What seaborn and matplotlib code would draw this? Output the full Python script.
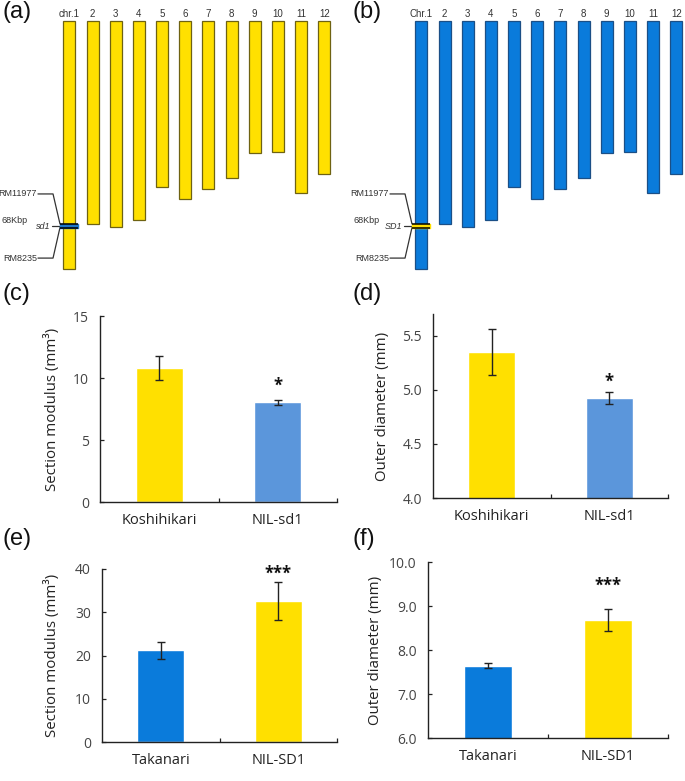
import numpy as np
import matplotlib
matplotlib.use("Agg")
import matplotlib.pyplot as plt
import seaborn as sns

# chromosome map data (lengths in Mb)
chr_names = ["1", "2", "3", "4", "5", "6", "7", "8", "9", "10", "11", "12"]
chr_len = [43.3, 35.4, 36.0, 34.7, 29.0, 31.1, 29.3, 27.4, 23.0, 22.9, 30.0, 26.7]
gene_pos = 35.75          # sd1 / SD1 position on chr.1 (Mb)
marker_names = ["RM11977", "RM8235"]
interval_label = "68Kbp"

# bar chart data
cats_cd = ["Koshihikari", "NIL-sd1"]
modulus_cd = [10.8, 8.06]
modulus_cd_err = [1.0, 0.2]
diam_cd = [5.35, 4.92]
diam_cd_err = [0.21, 0.055]

cats_ef = ["Takanari", "NIL-SD1"]
modulus_ef = [21.2, 32.5]
modulus_ef_err = [2.0, 4.4]
diam_ef = [7.64, 8.68]
diam_ef_err = [0.06, 0.25]

YELLOW = "#FFE000"
LIGHT_BLUE = "#5B96DB"
BLUE = "#0A7BDB"

sns.set_theme(style="ticks")
plt.rcParams["font.family"] = ["Open Sans", "DejaVu Sans"]

W, H = 685, 781
fig = plt.figure(figsize=(W / 100, H / 100), dpi=100)


def px_axes(x0, y0, x1, y1):
    return fig.add_axes([x0 / W, 1 - y1 / H, (x1 - x0) / W, (y1 - y0) / H])


# ---- chromosome panels ----
def chrom_panel(x_off, color, edge, band_color, first_label, gene_label):
    ax = px_axes(x_off, 10, x_off + 333, 281)
    sns.barplot(x=chr_names, y=chr_len, color=color, saturation=1, width=0.52,
                edgecolor=edge, linewidth=0.9, ax=ax)
    ax.set_ylim(45.4, -1.92)
    ax.set_xlim(-3.0, 11.38)
    ax.axis("off")
    labels = [first_label] + chr_names[1:]
    for i, lab in enumerate(labels):
        ax.text(i, -1.25, lab, ha="center", va="center", fontsize=7,
                color="#333333", family="Liberation Sans")
    # locus band
    top, bot = gene_pos - 0.32, gene_pos + 0.32
    ax.fill_between([-0.41, 0.37], top, bot, color=band_color, zorder=3)
    ax.hlines([top, bot], -0.41, 0.37, color="black", lw=1.1, zorder=4)
    # marker lines
    lc = "#333333"
    tkw = dict(fontsize=6.5, color="#333333", family="Liberation Sans")
    ax.plot([-1.36, -0.71, -0.41], [30.2, 30.2, top], color=lc, lw=0.9)
    ax.plot([-1.36, -0.71, -0.41], [41.4, 41.4, bot], color=lc, lw=0.9)
    ax.plot([-0.76, -0.33], [gene_pos, gene_pos], color=lc, lw=0.9)
    ax.text(-1.40, 30.2, marker_names[0], ha="right", va="center", **tkw)
    ax.text(-1.40, 41.4, marker_names[1], ha="right", va="center", **tkw)
    ax.text(-2.93, 34.9, interval_label, ha="left", va="center", **tkw)
    ax.text(-0.82, gene_pos + 0.1, gene_label, ha="right", va="center",
            style="italic", **tkw)
    return ax


chrom_panel(0, YELLOW, "#6E6212", "#1F77C8", "chr.1", "sd1")
chrom_panel(352, BLUE, "#1B4F86", YELLOW, "Chr.1", "SD1")


# ---- bar panels ----
def bar_panel(box, cats, means, errs, colors, ylim, yticks, fmt, ylabel,
              star, star_y, label_right):
    ax = px_axes(*box)
    sns.barplot(x=cats, y=means, hue=cats, palette=colors, saturation=1,
                width=0.4, legend=False, ax=ax)
    ax.errorbar([0, 1], means, yerr=errs, fmt="none", ecolor="#222222",
                elinewidth=1, capsize=2.6, capthick=1, zorder=5)
    ax.set_xlim(-0.5, 1.5)
    ax.set_ylim(*ylim)
    ax.set_yticks(yticks)
    ax.set_yticklabels([fmt.format(v) for v in yticks])
    ax.set_xticks([0, 1])
    ax.set_xticklabels(cats)
    ax.set_xticks([0.5, 1.5], minor=True)
    ax.tick_params(axis="x", which="major", length=0, pad=8, labelsize=10.5,
                   labelcolor="#222222")
    ax.tick_params(axis="x", which="minor", direction="in", length=3,
                   width=0.9, color="#222222")
    ax.tick_params(axis="y", direction="in", length=3, width=0.9, pad=8,
                   labelsize=10, labelcolor="#444444", color="#222222")
    ax.set_xlabel("")
    ax.set_ylabel(ylabel, fontsize=10.8, color="#222222")
    width = box[2] - box[0]
    ax.yaxis.set_label_coords(-label_right / width, 0.5)
    sns.despine(ax=ax)
    for s in ("left", "bottom"):
        ax.spines[s].set_color("#222222")
        ax.spines[s].set_linewidth(1)
    ax.text(1, star_y, star, ha="center", va="center", fontsize=12,
            fontweight="bold", color="#111111")
    return ax


bar_panel((100, 316, 337, 502), cats_cd, modulus_cd, modulus_cd_err,
          [YELLOW, LIGHT_BLUE], (0, 15), [0, 5, 10, 15], "{:.0f}",
          "Section modulus (mm³)", "*", 9.4, 40)
bar_panel((433, 314, 668, 498), cats_cd, diam_cd, diam_cd_err,
          [YELLOW, LIGHT_BLUE], (4.0, 5.7), [4.0, 4.5, 5.0, 5.5], "{:.1f}",
          "Outer diameter (mm)", "*", 5.07, 43)
bar_panel((102, 569, 337, 742), cats_ef, modulus_ef, modulus_ef_err,
          [BLUE, YELLOW], (0, 40), [0, 10, 20, 30, 40], "{:.0f}",
          "Section modulus (mm³)", "***", 38.8, 42)
bar_panel((428, 562, 668, 738), cats_ef, diam_ef, diam_ef_err,
          [BLUE, YELLOW], (6.0, 10.0), [6.0, 7.0, 8.0, 9.0, 10.0], "{:.1f}",
          "Outer diameter (mm)", "***", 9.45, 45)

# panel letters
for lab, x, y in [("(a)", 3, 1), ("(b)", 352, 1), ("(c)", 3, 283),
                  ("(d)", 353, 283), ("(e)", 3, 528), ("(f)", 353, 528)]:
    fig.text(x / W, 1 - y / H, lab, ha="left", va="top", fontsize=17,
             color="#111111", family="Liberation Sans")

fig.savefig("out.png", dpi=100)
